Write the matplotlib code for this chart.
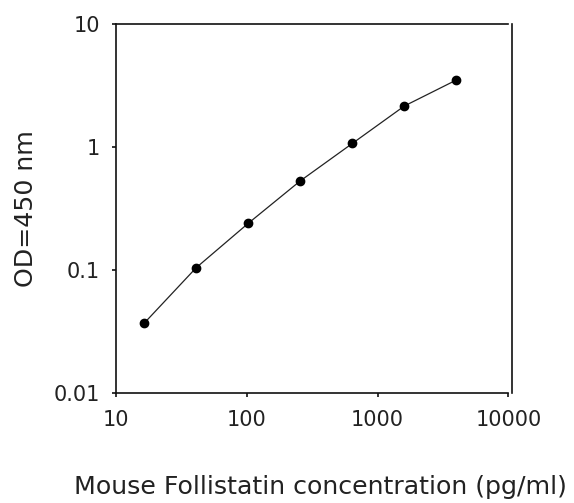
import matplotlib
matplotlib.use("Agg")
import matplotlib.pyplot as plt
from matplotlib.ticker import FixedLocator, FixedFormatter, NullLocator

plt.rcParams['font.family'] = ['DejaVu Sans']

concentration = [16.4, 41, 102.4, 256, 640, 1600, 4000]
od450 = [0.0367, 0.104, 0.239, 0.53, 1.07, 2.16, 3.52]
x_ticks = [10, 100, 1000, 10000]
x_tick_labels = ["10", "100", "1000", "10000"]
y_ticks = [0.01, 0.1, 1, 10]
y_tick_labels = ["0.01", "0.1", "1", "10"]

W, H = 574, 503
fig = plt.figure(figsize=(W / 100, H / 100), dpi=100)
left, right, top, bottom = 116, 508.5, 24.3, 392.6
ax = fig.add_axes([left / W, 1 - bottom / H, (right - left) / W, (bottom - top) / H])

ax.plot(concentration, od450, color='#222222', lw=0.9, marker='o',
        markersize=6, markerfacecolor='black', markeredgecolor='black')

ax.set_xscale('log')
ax.set_yscale('log')
ax.set_xlim(10, 10000)
ax.set_ylim(0.01, 10)

ax.xaxis.set_major_locator(FixedLocator(x_ticks))
ax.xaxis.set_major_formatter(FixedFormatter(x_tick_labels))
ax.yaxis.set_major_locator(FixedLocator(y_ticks))
ax.yaxis.set_major_formatter(FixedFormatter(y_tick_labels))
ax.xaxis.set_minor_locator(NullLocator())
ax.yaxis.set_minor_locator(NullLocator())

for s in ax.spines.values():
    s.set_linewidth(1.2)
    s.set_color('#111111')
ax.spines['right'].set_position(('outward', 2.2))

ax.tick_params(axis='both', which='major', direction='out', length=3,
               width=1.2, color='#111111', labelsize=15, labelcolor='#222222')
ax.tick_params(axis='x', pad=9.5)
ax.tick_params(axis='y', pad=8.6)
ax.tick_params(top=False, right=False)

ax.set_xlabel("Mouse Follistatin concentration (pg/ml)", fontsize=18.2,
              color='#222222', va='baseline')
ax.xaxis.set_label_coords((320 - left) / (right - left), (bottom - 494) / (bottom - top))
ax.set_ylabel("OD=450 nm", fontsize=18.2, color='#222222', va='center')
ax.yaxis.set_label_coords((26.5 - left) / (right - left), 0.5)

fig.savefig("out.png", dpi=100)
